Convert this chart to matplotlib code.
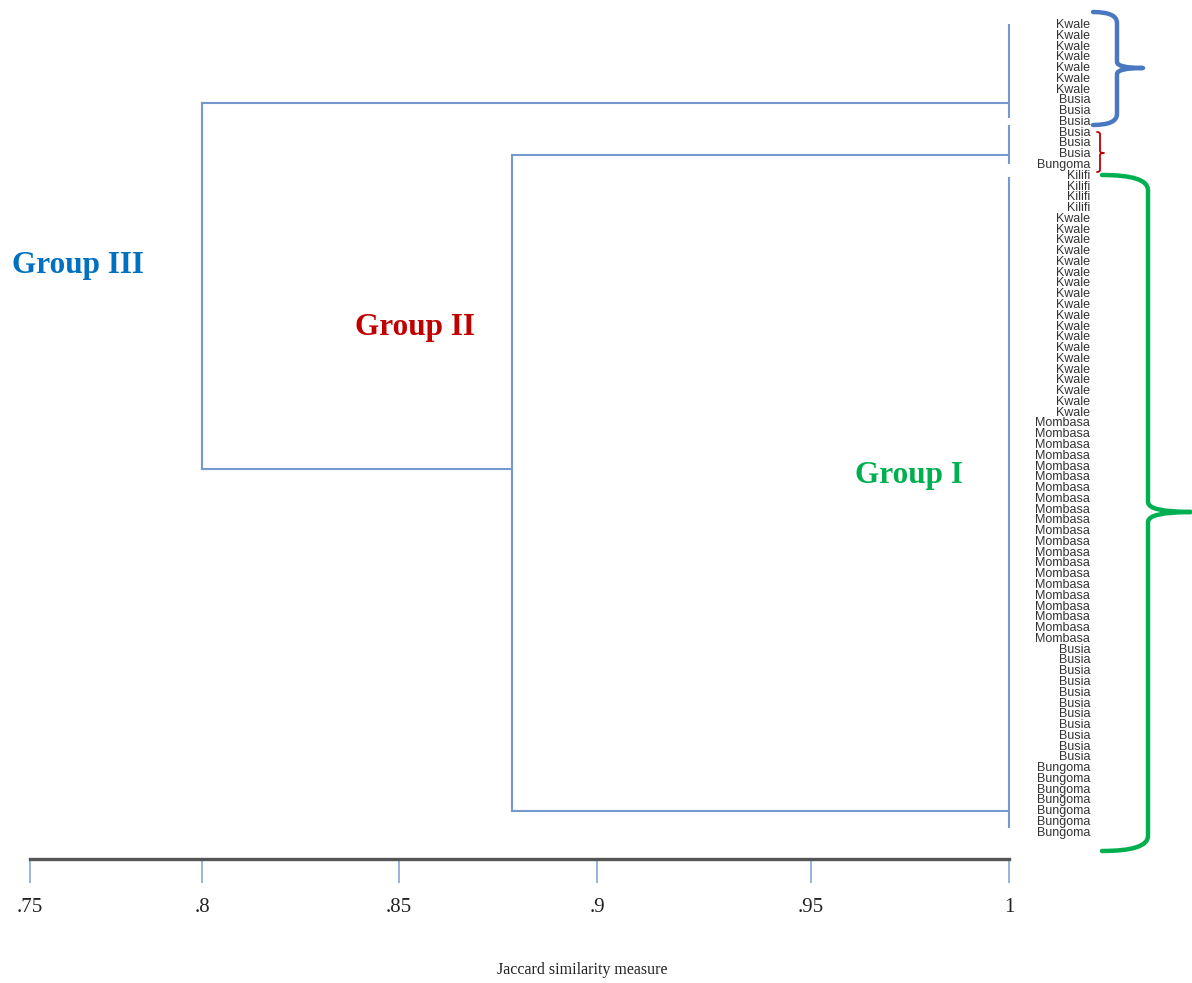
import matplotlib
matplotlib.use("Agg")
import matplotlib.pyplot as plt
import numpy as np
from matplotlib.path import Path
from matplotlib.patches import PathPatch

# leaves, top to bottom
leaf_labels = (['Kwale'] * 7 + ['Busia'] * 3 + ['Busia'] * 3 + ['Bungoma'] +
               ['Kilifi'] * 4 + ['Kwale'] * 19 + ['Mombasa'] * 21 +
               ['Busia'] * 11 + ['Bungoma'] * 7)

# clusters joined at similarity 1.0 (rows in leaf units)
cluster_top = [0.0, 9.4, 14.2]
cluster_bottom = [8.5, 12.8, 74.5]
cluster_link = [7.2, 12.1, 73.0]

# merges: (child a, child b, similarity, row of outgoing link)
merge_a = [1, 0]
merge_b = [2, 3]
merge_sim = [0.8785, 0.80]
merge_link = [41.2, None]

tick_vals = [0.75, 0.80, 0.85, 0.90, 0.95, 1.0]
tick_text = ['.75', '.8', '.85', '.9', '.95', '1']

# the reference axis is not evenly spaced: piecewise scale through its tick positions
px_anchor = np.array([30, 202, 399, 597, 811, 1009], float)
val_anchor = np.array(tick_vals, float)


def _pw(v, xs, ys):
    v = np.asarray(v, float)
    s0 = (ys[1] - ys[0]) / (xs[1] - xs[0])
    s1 = (ys[-1] - ys[-2]) / (xs[-1] - xs[-2])
    return np.where(v < xs[0], ys[0] + (v - xs[0]) * s0,
                    np.where(v > xs[-1], ys[-1] + (v - xs[-1]) * s1,
                             np.interp(v, xs, ys)))


def fwd(v):
    return _pw(v, val_anchor, px_anchor)


def inv(p):
    return _pw(p, px_anchor, val_anchor)


W, H = 1192, 983
fig = plt.figure(figsize=(W / 100, H / 100), dpi=100)
ax_bottom = 859
ax = fig.add_axes([30 / W, (H - ax_bottom) / H, (1009 - 30) / W, ax_bottom / H])
ax.set_xscale('function', functions=(fwd, inv))
ax.set_xlim(0.75, 1.0)
step = 10.77
ax.set_ylim((ax_bottom - 25) / step, -25 / step)

lc = '#7399cf'
lw = 1.5

# leaf-level clusters
nodes_row = list(cluster_link)
nodes_sim = [1.0] * len(cluster_link)
for t, b in zip(cluster_top, cluster_bottom):
    ax.plot([1.0, 1.0], [t, b], color=lc, lw=lw, clip_on=False)

for a, b, s, link in zip(merge_a, merge_b, merge_sim, merge_link):
    for c in (a, b):
        ax.plot([nodes_sim[c], s], [nodes_row[c], nodes_row[c]], color=lc, lw=lw, clip_on=False)
    ax.plot([s, s], [nodes_row[a], nodes_row[b]], color=lc, lw=lw, clip_on=False)
    nodes_sim.append(s)
    nodes_row.append(link)

# leaf labels
lab_x = (1090 - 30) / (1009 - 30)
for i, name in enumerate(leaf_labels):
    ax.text(lab_x, i, name, transform=ax.get_yaxis_transform(), ha='right', va='center',
            fontsize=9, family='Liberation Sans', color='#333333', clip_on=False)

# axis styling
for side in ('top', 'right', 'left'):
    ax.spines[side].set_visible(False)
ax.spines['bottom'].set_color('#555555')
ax.spines['bottom'].set_linewidth(2.4)
ax.set_yticks([])
ax.set_xticks(tick_vals)
ax.set_xticklabels(tick_text, family='Liberation Serif', fontsize=15, color='#222222')
ax.tick_params(axis='x', direction='out', length=17, width=1.3, color='#8fb0da', pad=11)
ax.patch.set_alpha(0)

fig.text(582 / W, 1 - 970 / H, 'Jaccard similarity measure', ha='center', va='center',
         family='Liberation Serif', fontsize=11.5, color='#222222')

# overlay in pixel coordinates for annotations
ov = fig.add_axes([0, 0, 1, 1])
ov.set_xlim(0, W)
ov.set_ylim(H, 0)
ov.axis('off')
ov.patch.set_alpha(0)


def brace(x0, xm, xt, y0, ymid, y1, r, rc, color, width):
    verts = [(x0, y0), (xm, y0), (xm, y0 + r),
             (xm, ymid - rc), (xm, ymid), (xt, ymid),
             (xm, ymid), (xm, ymid + rc),
             (xm, y1 - r), (xm, y1), (x0, y1)]
    codes = [Path.MOVETO, Path.CURVE3, Path.CURVE3,
             Path.LINETO, Path.CURVE3, Path.CURVE3,
             Path.CURVE3, Path.CURVE3,
             Path.LINETO, Path.CURVE3, Path.CURVE3]
    ov.add_patch(PathPatch(Path(verts, codes), fill=False, edgecolor=color,
                           lw=width, capstyle='round', joinstyle='round'))


brace(1093, 1117, 1143, 12, 68, 125, 11, 6, '#4a78c0', 3.2)
brace(1097, 1100, 1104, 132, 153, 172, 2, 2, '#c00000', 1.3)
brace(1102, 1148, 1191, 175, 512, 851, 15, 10, '#00b050', 3.2)

gfont = dict(family='Liberation Serif', fontweight='bold', fontsize=22.5, va='center', ha='left')
ov.text(12, 265, 'Group III', color='#0070c0', **gfont)
ov.text(355, 328, 'Group II', color='#c00000', **gfont)
ov.text(855, 476, 'Group I', color='#00b050', **gfont)

fig.savefig('out.png', dpi=100)
